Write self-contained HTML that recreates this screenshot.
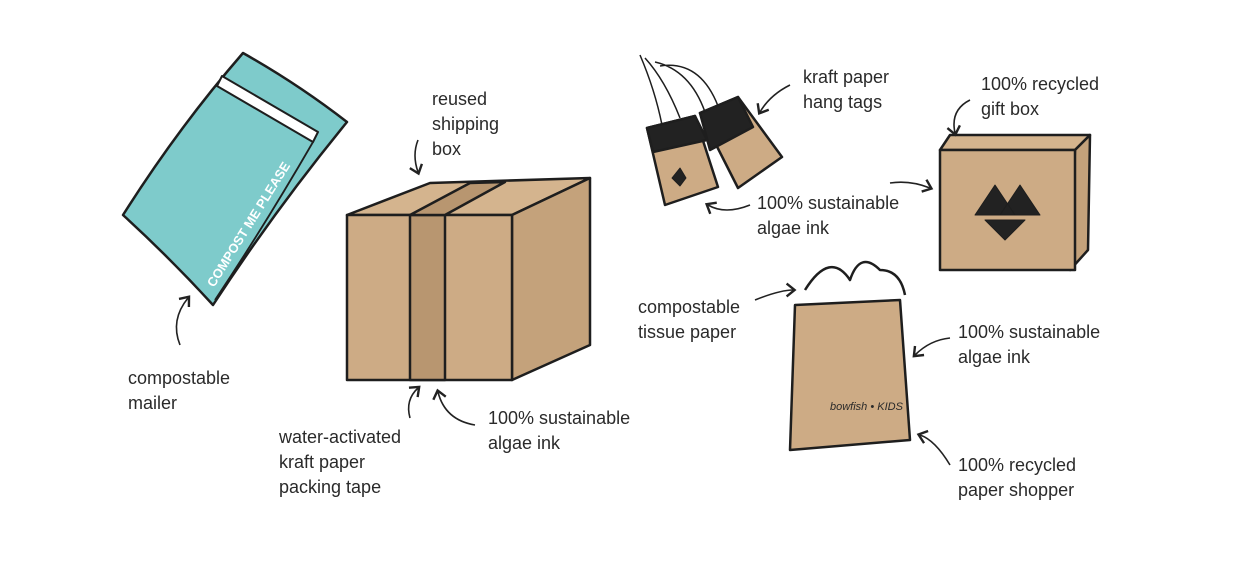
<!DOCTYPE html>
<html><head><meta charset="utf-8"><style>
html,body{margin:0;padding:0;background:#fff;}
svg{display:block}
text{font-family:"Liberation Sans",sans-serif;font-size:18px;fill:#2a2a2a;}
</style></head><body>
<svg width="1246" height="564" viewBox="0 0 1246 564" xmlns="http://www.w3.org/2000/svg">
<defs><marker id="ah" markerWidth="10" markerHeight="10" refX="5" refY="5" orient="auto"><path d="M1,1 L6,5 L1,9" fill="none" stroke="#222" stroke-width="1.5"/></marker></defs>
<g stroke="#1e1e1e" stroke-width="2.5" stroke-linejoin="round">
<!-- mailer -->
<path d="M243,53 Q298,84 347,122 Q275,210 213,305 Q170,258 123,215 Q178,128 243,53Z" fill="#7ecbcb"/>
<path d="M222,76 L318,132 L313,142 L217,86Z" fill="#fff" stroke-width="2"/>
<path d="M313,142 Q265,225 215,300" fill="none" stroke-width="1.8"/>
<!-- box -->
<path d="M347,215 L430,183 L590,178 L512,215Z" fill="#d4b48e"/>
<path d="M512,215 L590,178 L590,345 L512,380Z" fill="#c4a27b"/>
<rect x="347" y="215" width="165" height="165" fill="#cdab85"/>
<rect x="410" y="215" width="35" height="165" fill="#b89670"/>
<path d="M410,215 L470,183 L505,182 L445,215Z" fill="#b89670"/>
<!-- tags -->
<path d="M647,128 L695,116 L718,187 L665,205Z" fill="#cdab85"/>
<path d="M647,128 L695,116 L707,140 L653,152Z" fill="#222"/>
<path d="M700,113 L738,97 L782,157 L738,188Z" fill="#cdab85"/>
<path d="M700,113 L738,97 L753,127 L710,150Z" fill="#222"/>
<path d="M662,125 Q655,90 640,55 M680,118 Q665,80 645,58 M705,112 Q690,70 655,62 M718,106 Q700,60 660,66" fill="none" stroke-width="1.5"/>
<path d="M672,178 L680,168 L686,178 L680,186Z" fill="#222" stroke-width="1"/>
<!-- gift box -->
<path d="M940,150 L950,135 L1090,135 L1075,150Z" fill="#d4b48e"/>
<path d="M1075,150 L1090,135 L1088,250 L1070,270Z" fill="#c4a27b"/>
<rect x="940" y="150" width="135" height="120" fill="#cdab85"/>
<path d="M975,215 L995,185 L1015,215Z M1000,215 L1020,185 L1040,215Z M985,220 L1005,240 L1025,220Z" fill="#222" stroke-width="1"/>
<!-- bag -->
<path d="M805,290 Q830,250 850,280 Q860,250 880,270 Q900,270 905,295" fill="#fff"/>
<path d="M795,305 L900,300 L910,440 L790,450Z" fill="#cdab85"/>
</g>
<g fill="none" stroke="#222" stroke-width="1.6" marker-end="url(#ah)">
<path d="M180,345 Q170,320 188,298"/>
<path d="M418,140 Q412,155 418,172"/>
<path d="M410,418 Q405,400 418,388"/>
<path d="M475,425 Q445,420 438,392"/>
<path d="M790,85 Q770,95 760,112"/>
<path d="M970,100 Q950,110 955,133"/>
<path d="M750,205 Q725,215 708,205"/>
<path d="M890,183 Q910,180 930,188"/>
<path d="M755,300 Q780,290 793,290"/>
<path d="M950,338 Q930,340 915,355"/>
<path d="M950,465 Q935,440 920,435"/>
</g>
<text x="128" y="384">compostable</text><text x="128" y="409">mailer</text>
<text x="432" y="105">reused</text><text x="432" y="130">shipping</text><text x="432" y="155">box</text>
<text x="279" y="443">water-activated</text><text x="279" y="468">kraft paper</text><text x="279" y="493">packing tape</text>
<text x="488" y="424">100% sustainable</text><text x="488" y="449">algae ink</text>
<text x="803" y="83">kraft paper</text><text x="803" y="108">hang tags</text>
<text x="981" y="90">100% recycled</text><text x="981" y="115">gift box</text>
<text x="757" y="209">100% sustainable</text><text x="757" y="234">algae ink</text>
<text x="638" y="313">compostable</text><text x="638" y="338">tissue paper</text>
<text x="958" y="338">100% sustainable</text><text x="958" y="363">algae ink</text>
<text x="958" y="471">100% recycled</text><text x="958" y="496">paper shopper</text>
<text x="0" y="0" transform="translate(214,288) rotate(-58)" style="font-size:13px;font-weight:bold;fill:#fff">COMPOST ME PLEASE</text>
<text x="0" y="0" transform="translate(830,410)" style="font-size:11px;font-style:italic">bowfish • KIDS</text>
</svg>
</body></html>
